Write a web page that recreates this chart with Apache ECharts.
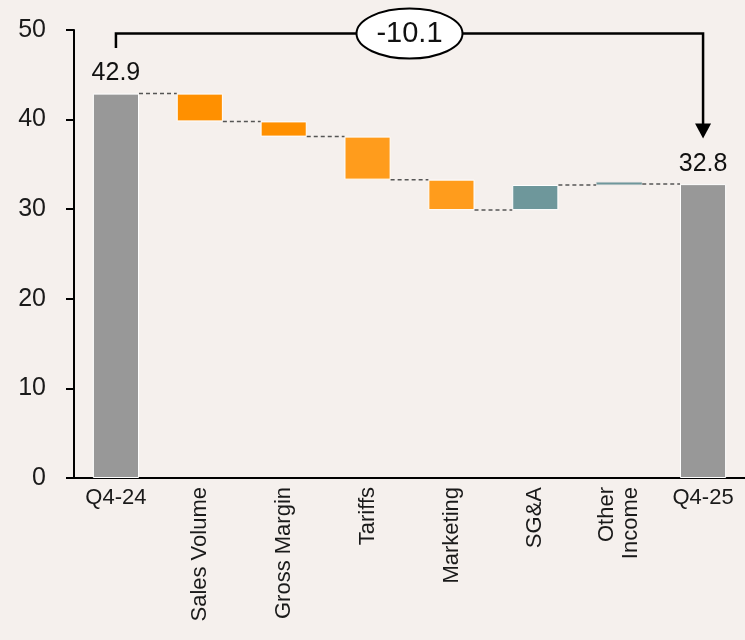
<!DOCTYPE html>
<html>
<head>
<meta charset="utf-8">
<script src="https://cdn.jsdelivr.net/npm/echarts@6/dist/echarts.min.js"></script>
<style>
html,body{margin:0;padding:0;background:#F5F0ED;}
#main{width:745px;height:640px;}
</style>
</head>
<body>
<div id="main"></div>
<script>
var categories = ['Q4-24', 'Sales Volume', 'Gross Margin', 'Tariffs', 'Marketing', 'SG&A', 'Other\nIncome', 'Q4-25'];
var startTotal = 42.9;
var deltas = [-3.1, -1.7, -4.8, -3.4, 2.8, 0.1];
var endTotal = 32.8;
var totalChange = '-10.1';
var barColors = ['#989898', '#FF9000', '#FF9000', '#FF9C1C', '#FF9C1C', '#6E979B', '#6E979B', '#989898'];
// bracket levels on the value axis
var bracketLow = 48;
var bracketTop = 49.6;
var arrowTip = 37.9;

var FONT = 'Liberation Sans';

// waterfall pieces
var base = [0], height = [startTotal], levels = [startTotal];
var level = startTotal;
for (var i = 0; i < deltas.length; i++) {
	var next = +(level + deltas[i]).toFixed(1);
	base.push(Math.min(level, next));
	height.push(Math.abs(deltas[i]));
	level = next;
	levels.push(level);
}
base.push(0);
height.push(endTotal);

var last = categories.length - 1;
var valueData = height.map(function (h, idx) {
	var st = {color: barColors[idx]};
	if (h < 0.5) { st.borderColor = '#d8d8d8'; st.borderWidth = 0.5; }
	return {value: h, itemStyle: st};
});

var myChart = echarts.init(document.getElementById('main'));
myChart.setOption({
	backgroundColor: '#F5F0ED',
	animation: false,
	grid: {left: 74, right: -4, top: 30, bottom: 162},
	xAxis: [
		{
			type: 'category',
			data: categories,
			axisLine: {lineStyle: {color: '#000', width: 2}},
			axisTick: {show: false},
			axisLabel: {
				interval: 0, margin: 9, fontSize: 22, color: '#1a1a1a', fontFamily: FONT,
				formatter: function (v, idx) { return (idx == 0 || idx == last) ? v : ''; }
			}
		},
		{
			type: 'category',
			position: 'bottom',
			data: categories,
			axisLine: {show: false},
			axisTick: {show: false},
			axisLabel: {
				interval: 0, rotate: 90, margin: 9, fontSize: 22, lineHeight: 24, color: '#1a1a1a', fontFamily: FONT,
				formatter: function (v, idx) { return (idx == 0 || idx == last) ? '' : v; }
			}
		}
	],
	yAxis: {
		type: 'value',
		min: 0,
		max: 50,
		interval: 10,
		splitLine: {show: false},
		axisLine: {show: true, lineStyle: {color: '#000', width: 2}},
		axisTick: {show: true, length: 8, lineStyle: {color: '#000', width: 2}},
		axisLabel: {margin: 28, fontSize: 25, color: '#1a1a1a', fontFamily: FONT}
	},
	series: [
		{
			type: 'bar',
			stack: 'w',
			data: base,
			barWidth: '55%',
			itemStyle: {color: 'transparent'},
			silent: true
		},
		{
			type: 'bar',
			stack: 'w',
			data: valueData,
			barWidth: '55%',
			barMinHeight: 3,
			itemStyle: {borderColor: '#ffffff', borderWidth: 1},
			label: {
				show: true,
				position: 'top',
				distance: 8,
				fontSize: 25,
				color: '#111',
				fontFamily: FONT,
				formatter: function (p) {
					return (p.dataIndex == 0 || p.dataIndex == last) ? p.value.toFixed(1) : '';
				}
			}
		}
	]
});

// connectors and bracket annotation, placed through the chart's own scales
function px(i, v) {
	return myChart.convertToPixel({xAxisIndex: 0, yAxisIndex: 0}, [i, v]);
}
var catW = px(1, 0)[0] - px(0, 0)[0];
var half = catW * 0.55 / 2;
var graphics = [];
for (var k = 0; k < last; k++) {
	var a = px(k, levels[k]);
	var b = px(k + 1, levels[k]);
	graphics.push({
		type: 'line',
		shape: {x1: a[0] + half, y1: a[1], x2: b[0] - half, y2: b[1]},
		style: {stroke: '#555', lineWidth: 1.5, lineDash: [4, 3]},
		z: 10
	});
}
var pLow = px(0, bracketLow);
var pTopL = px(0, bracketTop);
var pTopR = px(last, bracketTop);
var pTip = px(last, arrowTip);
graphics.push({
	type: 'polyline',
	shape: {points: [[pLow[0], pLow[1]], [pTopL[0], pTopL[1]], [pTopR[0], pTopR[1]], [pTip[0], pTip[1] - 12]]},
	style: {stroke: '#000', lineWidth: 2.5, fill: null},
	z: 20
});
graphics.push({
	type: 'polygon',
	shape: {points: [[pTip[0] - 8, pTip[1] - 15], [pTip[0] + 8, pTip[1] - 15], [pTip[0], pTip[1]]]},
	style: {fill: '#000'},
	z: 20
});
var midX = (pTopL[0] + pTopR[0]) / 2;
graphics.push({
	type: 'ellipse',
	shape: {cx: midX, cy: pTopL[1], rx: 53, ry: 25},
	style: {fill: '#fff', stroke: '#000', lineWidth: 2},
	z: 30
});
graphics.push({
	type: 'text',
	x: midX,
	y: pTopL[1],
	style: {text: totalChange, fontSize: 29, fill: '#111', fontFamily: FONT, align: 'center', verticalAlign: 'middle'},
	z: 31
});
myChart.setOption({graphic: graphics});
</script>
</body>
</html>
